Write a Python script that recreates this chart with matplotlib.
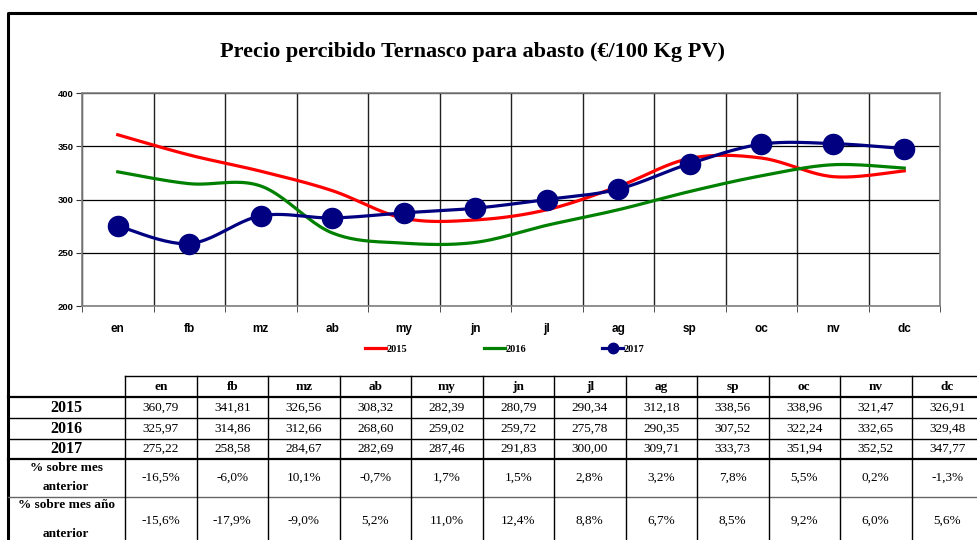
import matplotlib
matplotlib.use("Agg")
import matplotlib.pyplot as plt
from matplotlib.lines import Line2D
import numpy as np

# datos
meses = ['en', 'fb', 'mz', 'ab', 'my', 'jn', 'jl', 'ag', 'sp', 'oc', 'nv', 'dc']
precio_2015 = [360.79, 341.81, 326.56, 308.32, 282.39, 280.79, 290.34, 312.18, 338.56, 338.96, 321.47, 326.91]
precio_2016 = [325.97, 314.86, 312.66, 268.60, 259.02, 259.72, 275.78, 290.35, 307.52, 322.24, 332.65, 329.48]
precio_2017 = [275.22, 258.58, 284.67, 282.69, 287.46, 291.83, 300.00, 309.71, 333.73, 351.94, 352.52, 347.77]
pct_mes_anterior = [-16.5, -6.0, 10.1, -0.7, 1.7, 1.5, 2.8, 3.2, 7.8, 5.5, 0.2, -1.3]
pct_anyo_anterior = [-15.6, -17.9, -9.0, 5.2, 11.0, 12.4, 8.8, 6.7, 8.5, 9.2, 6.0, 5.6]

W, H = 977, 540
serif = 'Liberation Serif'
sans = 'Liberation Sans'


def suavizar(valores, n=24):
    # curva tipo "linea suavizada" de Excel (Bezier por Catmull-Rom)
    pts = np.column_stack([np.arange(len(valores)), valores]).astype(float)
    out = []
    for i in range(len(pts) - 1):
        p0 = pts[max(i - 1, 0)]
        p1 = pts[i]
        p2 = pts[i + 1]
        p3 = pts[min(i + 2, len(pts) - 1)]
        c1 = p1 + (p2 - p0) / 6
        c2 = p2 - (p3 - p1) / 6
        t = np.linspace(0, 1, n)[:, None]
        seg = (1 - t) ** 3 * p1 + 3 * (1 - t) ** 2 * t * c1 + 3 * (1 - t) * t ** 2 * c2 + t ** 3 * p2
        out.append(seg if i == 0 else seg[1:])
    return np.vstack(out)


def fmt(v, dec=2):
    return f"{v:.{dec}f}".replace('.', ',')


fig = plt.figure(figsize=(W / 100, H / 100), dpi=100)

# grafico
ax = fig.add_axes([82 / W, 1 - 306 / H, (940 - 82) / W, (306 - 93) / H])
series = [(precio_2015, '#FF0000', '2015'), (precio_2016, '#008000', '2016'), (precio_2017, '#000080', '2017')]
for vals, col, lab in series:
    c = suavizar(vals)
    ax.plot(c[:, 0], c[:, 1], color=col, lw=2.3, zorder=3)
x = np.arange(len(meses))
ax.plot(x, precio_2017, 'o', color='#000080', ms=14.5, zorder=4)

ax.set_xlim(-0.5, 11.5)
ax.set_ylim(200, 400)
ax.set_yticks([200, 250, 300, 350, 400])
ax.set_xticks(x)
ax.set_xticklabels(meses, fontfamily=sans, fontweight='bold', fontsize=8.5)
ax.set_xticks(np.arange(-0.5, 12, 1), minor=True)
for lbl in ax.get_yticklabels():
    lbl.set_fontfamily(sans)
    lbl.set_fontweight('bold')
    lbl.set_fontsize(6.8)
ax.tick_params(axis='x', which='major', length=0, pad=12)
ax.tick_params(axis='x', which='minor', length=4, color='#333333')
ax.tick_params(axis='y', length=4, color='#333333', pad=2)
ax.grid(True, axis='y', color='black', lw=0.9)
ax.grid(True, axis='x', which='minor', color='#222222', lw=1.0)
for s in ax.spines.values():
    s.set_color('#808080')
    s.set_linewidth(1.2)

handles = [Line2D([], [], color='#FF0000', lw=2.3),
           Line2D([], [], color='#008000', lw=2.3),
           Line2D([], [], color='#000080', lw=2.3, marker='o', ms=7.5)]
fig.legend(handles, ['2015', '2016', '2017'], loc='center', bbox_to_anchor=(505 / W, 1 - 349 / H),
           ncol=3, frameon=False, handlelength=2.0, handletextpad=0.1, columnspacing=7.3,
           prop={'family': serif, 'weight': 'bold', 'size': 7.5})

fig.text(472 / W, 1 - 52 / H, 'Precio percibido Ternasco para abasto (€/100 Kg PV)',
         ha='center', va='center', fontfamily=serif, fontweight='bold', fontsize=16)

# marco y tabla en coordenadas de pixel
ov = fig.add_axes([0, 0, 1, 1], zorder=-1)
ov.set_xlim(0, W)
ov.set_ylim(H, 0)
ov.axis('off')
ov.plot([8, 8, W + 5], [H + 5, 13, 13], color='black', lw=2.2, solid_capstyle='butt')

col_x = [125 + 71.5 * i for i in range(13)]
filas_y = [376, 397, 418, 439, 459, 497]
ov.plot([125, W], [376, 376], color='black', lw=1)
for y in filas_y[1:]:
    lw = 1.6 if y in (397, 459) else 1
    col = '#666666' if y == 497 else 'black'
    ov.plot([8, W], [y, y], color=col, lw=lw)
for cx in col_x:
    ov.plot([cx, cx], [376, H + 5], color='black', lw=1)

for i, m in enumerate(meses):
    cx = col_x[i] + 35.75
    ov.text(cx, 387, m, ha='center', va='center', fontfamily=serif, fontweight='bold', fontsize=9.5)
    ov.text(cx, 408, fmt(precio_2015[i]), ha='center', va='center', fontfamily=serif, fontsize=9.5)
    ov.text(cx, 429, fmt(precio_2016[i]), ha='center', va='center', fontfamily=serif, fontsize=9.5)
    ov.text(cx, 449, fmt(precio_2017[i]), ha='center', va='center', fontfamily=serif, fontsize=9.5)
    ov.text(cx, 478, fmt(pct_mes_anterior[i], 1) + '%', ha='center', va='center', fontfamily=serif, fontsize=9.5)
    ov.text(cx, 521, fmt(pct_anyo_anterior[i], 1) + '%', ha='center', va='center', fontfamily=serif, fontsize=9.5)

for y, lab in [(408, '2015'), (429, '2016'), (449, '2017')]:
    ov.text(66, y, lab, ha='center', va='center', fontfamily=serif, fontweight='bold', fontsize=11.5)
ov.text(66, 468, '% sobre mes', ha='center', va='center', fontfamily=serif, fontweight='bold', fontsize=9.5)
ov.text(66, 487, 'anterior', ha='center', va='center', fontfamily=serif, fontweight='bold', fontsize=9.5)
ov.text(66, 505, '% sobre mes año', ha='center', va='center', fontfamily=serif, fontweight='bold', fontsize=9.5)
ov.text(66, 534, 'anterior', ha='center', va='center', fontfamily=serif, fontweight='bold', fontsize=9.5)

fig.savefig('out.png', dpi=100)
